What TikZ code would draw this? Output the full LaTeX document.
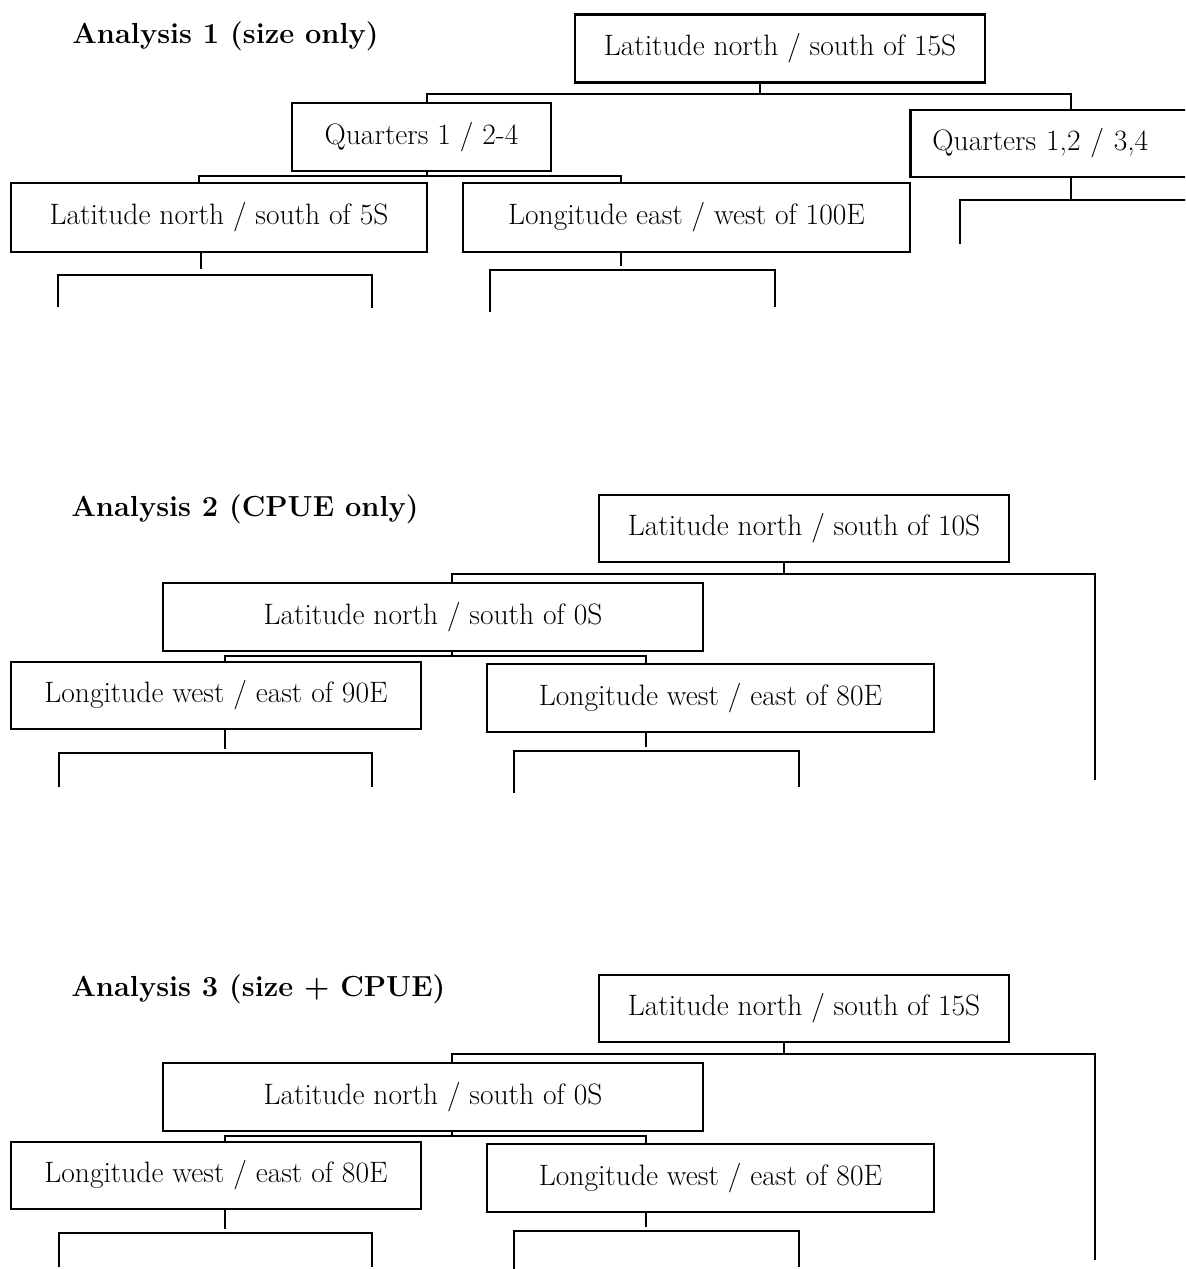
\documentclass[tikz,border=0pt]{standalone}
\usepackage{tikz}
\usetikzlibrary{calc}
\tikzset{
  splitbox/.style={draw, line width=1.6pt, inner sep=0pt, minimum height=13.6mm,
    font=\fontsize{16.8}{19}\selectfont},
  titletext/.style={inner sep=0pt, anchor=base west, font=\fontsize{16.5}{20}\selectfont\bfseries},
  branch/.style={line width=0.8pt},
}
\begin{document}
\begin{tikzpicture}[x=0.2mm, y=-0.2mm]
  \clip (0,0) rectangle (1185,1269);
  % Analysis 1
  \node[titletext] (t1) at (72,44) {Analysis 1 (size only)};
  \node[splitbox, minimum width=82mm] (aroot) at (780,48.5) {Latitude north / south of 15S};
  \node[splitbox, minimum width=51.8mm] (aqa) at (421.5,137) {Quarters 1 / 2-4};
  \node[splitbox, anchor=west, text width=63.6mm, inner xsep=4.4mm, align=left,
        minimum height=13.4mm] (aqb) at (909,143.5) {Quarters 1,2 / 3,4};
  \node[splitbox, minimum width=83.2mm, minimum height=13.8mm] (alat) at (219,217.5) {Latitude north / south of 5S};
  \node[splitbox, minimum width=89.4mm, minimum height=13.8mm] (alon) at (686.5,217.5) {Longitude east / west of 100E};
  \coordinate (ab0) at (760,94);
  \coordinate (ab1) at (427,176);
  \coordinate (ab2) at (201,275);
  \coordinate (ab3) at (621,270);
  \coordinate (ab4) at (1071,200);
  \draw[branch] (aroot.south -| ab0) -- (ab0);
  \draw[branch] (aqa.north -| 427,0) |- (ab0) -| (aqb.north -| 1071,0);
  \draw[branch] (aqa.south -| ab1) -- (ab1);
  \draw[branch] (alat.north -| 199,0) |- (ab1) -| (alon.north -| 621,0);
  \draw[branch] (alat.south -| ab2) -- ++(0,16);
  \draw[branch] (58,307) |- (ab2) -| (372,308);
  \draw[branch] (alon.south -| ab3) -- ++(0,13);
  \draw[branch] (490,312) |- (ab3) -| (775,307);
  \draw[branch] (aqb.south -| ab4) -- (ab4);
  \draw[branch] (960,244) |- (ab4) -- (1200,200);

  % Analysis 2
  \node[titletext] (t2) at (71,516) {Analysis 2 (CPUE only)};
  \node[splitbox, minimum width=82mm, minimum height=13.4mm] (broot) at (804,528.5) {Latitude north / south of 10S};
  \node[splitbox, minimum width=108mm] (blat) at (433,617) {Latitude north / south of 0S};
  \node[splitbox, minimum width=82mm, minimum height=13.4mm] (blona) at (216,695.5) {Longitude west / east of 90E};
  \node[splitbox, minimum width=89.4mm] (blonb) at (710.5,698) {Longitude west / east of 80E};
  \coordinate (bb0) at (784,574);
  \coordinate (bb1) at (452,656);
  \coordinate (bb2) at (225,753);
  \coordinate (bb3) at (646,751);
  \draw[branch] (broot.south -| bb0) -- (bb0);
  \draw[branch] (blat.north -| 452,0) |- (bb0) -| (1095,780);
  \draw[branch] (blat.south -| bb1) -- (bb1);
  \draw[branch] (blona.north -| 225,0) |- (bb1) -| (blonb.north -| 646,0);
  \draw[branch] (blona.south -| bb2) -- ++(0,19);
  \draw[branch] (59,787) |- (bb2) -| (372,787);
  \draw[branch] (blonb.south -| bb3) -- ++(0,14);
  \draw[branch] (514,793) |- (bb3) -| (799,787);

  % Analysis 3
  \node[titletext] (t3) at (71,996) {Analysis 3 (size + CPUE)};
  \node[splitbox, minimum width=82mm, minimum height=13.4mm] (croot) at (804,1008.5) {Latitude north / south of 15S};
  \node[splitbox, minimum width=108mm] (clat) at (433,1097) {Latitude north / south of 0S};
  \node[splitbox, minimum width=82mm, minimum height=13.4mm] (clona) at (216,1175.5) {Longitude west / east of 80E};
  \node[splitbox, minimum width=89.4mm] (clonb) at (710.5,1178) {Longitude west / east of 80E};
  \coordinate (cb0) at (784,1054);
  \coordinate (cb1) at (452,1136);
  \coordinate (cb2) at (225,1233);
  \coordinate (cb3) at (646,1231);
  \draw[branch] (croot.south -| cb0) -- (cb0);
  \draw[branch] (clat.north -| 452,0) |- (cb0) -| (1095,1260);
  \draw[branch] (clat.south -| cb1) -- (cb1);
  \draw[branch] (clona.north -| 225,0) |- (cb1) -| (clonb.north -| 646,0);
  \draw[branch] (clona.south -| cb2) -- ++(0,19);
  \draw[branch] (59,1267) |- (cb2) -| (372,1267);
  \draw[branch] (clonb.south -| cb3) -- ++(0,14);
  \draw[branch] (514,1273) |- (cb3) -| (799,1267);
\end{tikzpicture}
\end{document}
